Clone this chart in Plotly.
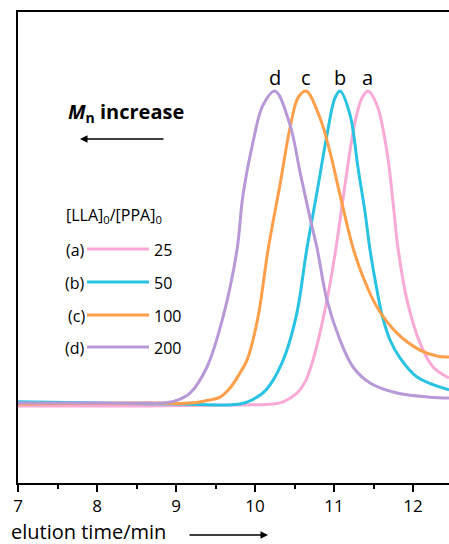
import plotly.graph_objects as go

# ---- data ----
x_a = [7.0, 8.671, 9.810, 10.228, 10.354, 10.532, 10.633, 10.734, 10.911, 11.025, 11.139, 11.266,
       11.354, 11.430, 11.544, 11.671, 11.747, 11.810, 11.924, 12.089, 12.253, 12.456]
y_a = [-0.003, -0.003, 0.0, 0.003, 0.010, 0.038, 0.073, 0.143, 0.334, 0.500, 0.701, 0.901,
       0.978, 1.0, 0.955, 0.806, 0.646, 0.500, 0.334, 0.197, 0.121, 0.086]

x_b = [7.0, 8.038, 9.051, 9.620, 9.810, 9.962, 10.139, 10.342, 10.519, 10.658, 10.785, 10.911,
       11.013, 11.076, 11.203, 11.304, 11.392, 11.456, 11.532, 11.608, 11.709, 11.835, 12.051, 12.456]
y_b = [0.010, 0.006, 0.003, 0.0, 0.003, 0.016, 0.048, 0.134, 0.280, 0.500, 0.678, 0.860,
       0.978, 1.0, 0.924, 0.755, 0.615, 0.494, 0.382, 0.287, 0.207, 0.150, 0.089, 0.048]

x_c = [7.0, 8.671, 9.177, 9.367, 9.557, 9.684, 9.810, 9.899, 10.038, 10.165, 10.316, 10.443, 10.544,
       10.646, 10.823, 10.949, 11.076, 11.241, 11.367, 11.544, 11.797, 12.089, 12.304, 12.456]
y_c = [0.003, 0.006, 0.006, 0.013, 0.025, 0.054, 0.102, 0.143, 0.280, 0.494, 0.701, 0.882, 0.978,
       1.0, 0.914, 0.806, 0.669, 0.500, 0.408, 0.312, 0.229, 0.175, 0.156, 0.153]

x_d = [7.0, 8.038, 8.671, 8.797, 8.987, 9.177, 9.392, 9.595, 9.772, 9.848, 9.975, 10.101, 10.253,
       10.443, 10.570, 10.696, 10.785, 10.911, 11.076, 11.241, 11.456, 11.797, 12.215, 12.456]
y_d = [0.006, 0.006, 0.006, 0.006, 0.013, 0.038, 0.121, 0.280, 0.494, 0.669, 0.838, 0.955, 1.0,
       0.892, 0.742, 0.596, 0.500, 0.334, 0.207, 0.121, 0.070, 0.038, 0.025, 0.022]

series_names = ["a", "b", "c", "d"]
ratios = ["25", "50", "100", "200"]
colors = ["#F8A9D6", "#28C3E2", "#FF9F4A", "#B899D8"]
xs = [x_a, x_b, x_c, x_d]
ys = [y_a, y_b, y_c, y_d]
peak_x = [11.430, 11.076, 10.646, 10.253]
tick_vals = [7, 8, 9, 10, 11, 12]

FONT = "Open Sans"

fig = go.Figure()
for name, x, y, c in zip(series_names, xs, ys, colors):
    fig.add_trace(go.Scatter(x=x, y=y, mode="lines", name=name,
                             line=dict(color=c, width=3, shape="spline", smoothing=1.0),
                             showlegend=False))

# peak labels
for name, pxk in zip(series_names, peak_x):
    fig.add_annotation(x=pxk, y=1.0, xref="x", yref="y", text=name, showarrow=False,
                       yshift=14, font=dict(family=FONT, size=20, color="black"))

# plot-area pixel bounds
L, T, R, B = 18, 12, 449, 483
def px(xp):
    return (xp - L) / (R - L)
def py(yp):
    return (B - yp) / (B - T)

# custom legend
fig.add_annotation(x=px(64), y=py(215), xref="paper", yref="paper", xanchor="left", yanchor="middle",
                   text="[LLA]<sub>0</sub>/[PPA]<sub>0</sub>", showarrow=False,
                   font=dict(family=FONT, size=16, color="black"))
row_y = [249, 282, 315, 347]
for name, r, c, yy in zip(series_names, ratios, colors, row_y):
    fig.add_annotation(x=px(87), y=py(yy + 1), xref="paper", yref="paper", xanchor="right", yanchor="middle",
                       text="(" + name + ")", showarrow=False, font=dict(family=FONT, size=16, color="black"))
    fig.add_shape(type="line", xref="paper", yref="paper", x0=px(87), x1=px(149), y0=py(yy), y1=py(yy),
                  line=dict(color=c, width=3))
    fig.add_annotation(x=px(152), y=py(yy + 1), xref="paper", yref="paper", xanchor="left", yanchor="middle",
                       text=r, showarrow=False, font=dict(family=FONT, size=16, color="black"))

# Mn increase
fig.add_annotation(x=px(66), y=py(113), xref="paper", yref="paper", xanchor="left", yanchor="middle",
                   text="<b><i>M</i><sub>n</sub> increase</b>", showarrow=False,
                   font=dict(family=FONT, size=20, color="black"))
fig.add_annotation(x=px(80), y=py(139), xref="paper", yref="paper", text="", showarrow=True,
                   ax=85, ay=0, arrowhead=2, arrowsize=1, arrowwidth=1.5, arrowcolor="black")

# x-axis title with arrow
fig.add_annotation(x=px(10), y=py(531), xref="paper", yref="paper", xanchor="left", yanchor="middle",
                   text="elution time/min", showarrow=False, borderpad=0,
                   font=dict(family=FONT, size=20, color="black"))
fig.add_annotation(x=px(268), y=py(535), xref="paper", yref="paper", text="", showarrow=True,
                   ax=-80, ay=0, arrowhead=2, arrowsize=1, arrowwidth=1.5, arrowcolor="black")

fig.update_layout(
    width=449, height=544,
    margin=dict(l=L, r=449 - R, t=T, b=544 - B, pad=0),
    paper_bgcolor="white", plot_bgcolor="white",
    xaxis=dict(range=[7, 7 + (R - L) / 79.0], tickvals=tick_vals, ticks="outside", ticklen=7,
               tickwidth=1.5, tickcolor="black", showline=True, linecolor="black", linewidth=2,
               mirror=True, showgrid=False, zeroline=False,
               tickfont=dict(family=FONT, size=17, color="black"),
               minor=dict(dtick=0.5, tick0=7, ticks="outside", ticklen=4, tickwidth=1.5, tickcolor="black")),
    yaxis=dict(range=[(405 - B) / 314.0, (405 - T) / 314.0], showticklabels=False, ticks="",
               showline=True, linecolor="black", linewidth=2, showgrid=False, zeroline=False),
)

fig.write_html("out.html", config={"displayModeBar": False},
               post_script="document.body.style.margin='0px';")
